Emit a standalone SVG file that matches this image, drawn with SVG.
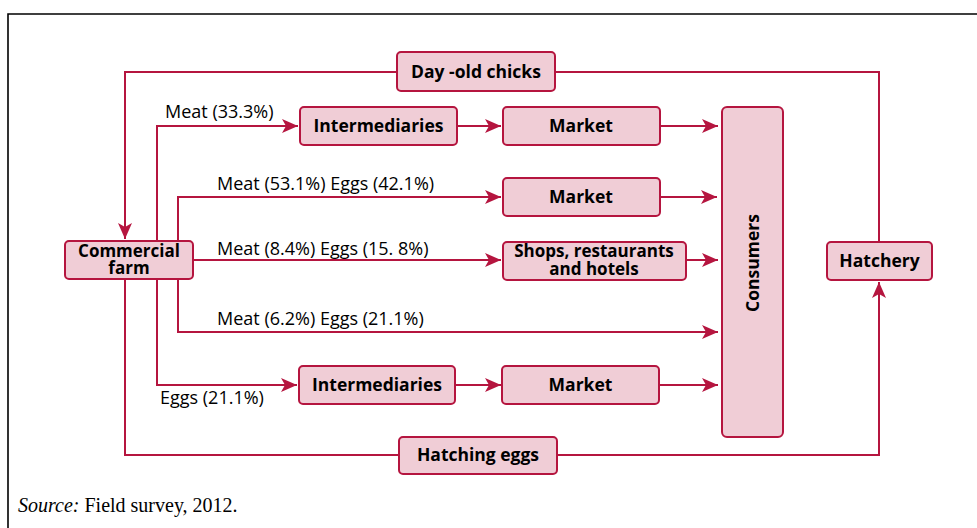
<svg xmlns="http://www.w3.org/2000/svg" width="977" height="528" viewBox="0 0 977 528">
<defs>
<style>
.frame{fill:none;stroke:#000;stroke-width:1.6}
.conn{fill:none;stroke:#b5153f;stroke-width:2}
.box{fill:#f0cdd6;stroke:#b5153f;stroke-width:2}
.bt{font-family:"Open Sans","Liberation Sans",sans-serif;font-weight:bold;font-size:17.5px;fill:#000;text-anchor:middle}
.bt2{font-size:17px}
.lt{font-family:"Open Sans","Liberation Sans",sans-serif;font-size:18px;fill:#000}
.src{font-family:"Liberation Serif",serif;font-size:20px;fill:#000}
</style>
<marker id="ah" viewBox="0 0 16 14" refX="16" refY="7" markerWidth="16" markerHeight="14" markerUnits="userSpaceOnUse" orient="auto">
<path d="M0,0 L16,7 L0,14 L4,7 z" fill="#b5153f"/>
</marker>
</defs>
<rect width="977" height="528" fill="#fff"/>
<path class="frame" d="M8,528 V14 H977"/>
<g id="connectors">
<path class="conn" d="M879,242 V72 H125 V239" marker-end="url(#ah)"/>
<path class="conn" d="M125,279 V455 H879 V282" marker-end="url(#ah)"/>
<path class="conn" d="M157,241 V126 H298" marker-end="url(#ah)"/>
<path class="conn" d="M157,279 V385 H297" marker-end="url(#ah)"/>
<path class="conn" d="M178,241 V197 H501" marker-end="url(#ah)"/>
<path class="conn" d="M178,279 V332 H718" marker-end="url(#ah)"/>
<path class="conn" d="M193,260 H501" marker-end="url(#ah)"/>
<path class="conn" d="M457,126 H501" marker-end="url(#ah)"/>
<path class="conn" d="M660,126 H718" marker-end="url(#ah)"/>
<path class="conn" d="M660,197 H717" marker-end="url(#ah)"/>
<path class="conn" d="M686,260 H718" marker-end="url(#ah)"/>
<path class="conn" d="M455,385 H501" marker-end="url(#ah)"/>
<path class="conn" d="M659,385 H718" marker-end="url(#ah)"/>
<text class="lt" x="165" y="118">Meat (33.3%)</text>
<text class="lt" x="217" y="190">Meat (53.1%) Eggs (42.1%)</text>
<text class="lt" x="217" y="255">Meat (8.4%) Eggs (15. 8%)</text>
<text class="lt" x="217" y="325">Meat (6.2%) Eggs (21.1%)</text>
<text class="lt" x="160" y="404">Eggs (21.1%)</text>
</g>
<g id="day-old-chicks"><rect class="box" x="397" y="52" width="158" height="39" rx="4"/><text class="bt" x="476" y="78">Day -old chicks</text></g>
<g id="intermediaries-1"><rect class="box" x="300" y="107" width="157" height="38" rx="4"/><text class="bt" x="378.5" y="132">Intermediaries</text></g>
<g id="market-1"><rect class="box" x="503" y="107" width="157" height="38" rx="4"/><text class="bt" x="581" y="132">Market</text></g>
<g id="market-2"><rect class="box" x="503" y="178" width="157" height="38" rx="4"/><text class="bt" x="581" y="203">Market</text></g>
<g id="shops"><rect class="box" x="503" y="242" width="183" height="38" rx="4"/><text class="bt bt2"><tspan x="594" y="257">Shops, restaurants</tspan><tspan x="594" y="275">and hotels</tspan></text></g>
<g id="consumers"><rect class="box" x="722" y="107" width="61" height="330" rx="5"/><text class="bt" transform="translate(759,263) rotate(-90)" x="0" y="0">Consumers</text></g>
<g id="commercial-farm"><rect class="box" x="65" y="241" width="128" height="38" rx="4"/><text class="bt bt2"><tspan x="129" y="257">Commercial</tspan><tspan x="129" y="274">farm</tspan></text></g>
<g id="hatchery"><rect class="box" x="827" y="242" width="105" height="38" rx="4"/><text class="bt" x="879.5" y="267">Hatchery</text></g>
<g id="intermediaries-2"><rect class="box" x="299" y="366" width="156" height="38" rx="4"/><text class="bt" x="377" y="391">Intermediaries</text></g>
<g id="market-3"><rect class="box" x="502" y="366" width="157" height="38" rx="4"/><text class="bt" x="580.5" y="391">Market</text></g>
<g id="hatching-eggs"><rect class="box" x="399" y="437" width="158" height="37" rx="4"/><text class="bt" x="478" y="461">Hatching eggs</text></g>
<text class="src" x="18" y="512"><tspan font-style="italic">Source:</tspan> Field survey, 2012.</text>
</svg>
